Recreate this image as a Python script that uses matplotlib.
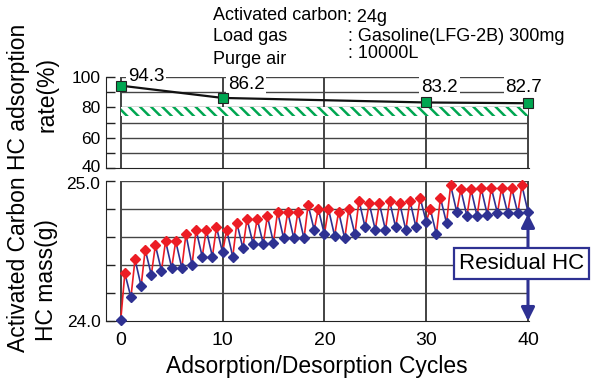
import matplotlib
matplotlib.use('Agg')
import matplotlib.pyplot as plt
import matplotlib.transforms as mtransforms
import numpy as np

plt.rcParams['font.family'] = ['Liberation Sans', 'DejaVu Sans']
plt.rcParams['hatch.linewidth'] = 1.8

# adsorption rate (top panel)
RATE_CYCLES = [0, 10, 30, 40]
RATE = [94.3, 86.2, 83.2, 82.7]
BAND_LO, BAND_HI = 74, 80

# HC mass after purge (blue, cycles 0..40) and after loading (red, cycles 0..39)
DES_HC = [24.01, 24.17, 24.25, 24.33, 24.36, 24.38, 24.38, 24.40, 24.46, 24.46,
          24.49, 24.46, 24.52, 24.55, 24.55, 24.56, 24.59, 24.59, 24.59, 24.65,
          24.62, 24.61, 24.59, 24.62, 24.67, 24.65, 24.65, 24.67, 24.65, 24.67,
          24.71, 24.62, 24.70, 24.78, 24.75, 24.75, 24.76, 24.77, 24.77, 24.77,
          24.78]
ADS_HC = [24.34, 24.44, 24.51, 24.54, 24.57, 24.57, 24.62, 24.65, 24.65, 24.67,
          24.65, 24.70, 24.73, 24.73, 24.75, 24.78, 24.78, 24.78, 24.83, 24.80,
          24.80, 24.78, 24.80, 24.86, 24.84, 24.84, 24.86, 24.84, 24.86, 24.88,
          24.80, 24.88, 24.97, 24.94, 24.94, 24.95, 24.95, 24.95, 24.95, 24.97]
HALF = 0.4   # loading point sits part way through the cycle

XTICKS = [0, 10, 20, 30, 40]
RED = '#ec1c24'
NAVY = '#2e3192'
GREEN = '#00a651'
GRID = '#444444'

W, H = 592, 379
fig = plt.figure(figsize=(W / 100, H / 100), dpi=100)
left = 106 / W
width = (528.5 - 106) / W
ax1 = fig.add_axes([left, 1 - 168 / H, width, 91 / H])
ax2 = fig.add_axes([left, 1 - 321 / H, width, 140 / H])

for ax in (ax1, ax2):
    ax.set_xlim(-1.45, 40.05)
    ax.spines['top'].set_visible(False)
    ax.spines['right'].set_visible(False)
    ax.spines['left'].set_color('#222222')
    ax.spines['bottom'].set_color('#222222')
    ax.tick_params(axis='y', direction='in', length=6.5, width=1, color='#222222',
                   labelsize=12.5, pad=4)
    for xv in XTICKS:
        ax.axvline(xv, color='#222222', lw=1.2, zorder=1)

# ---- top panel
ax1.set_ylim(40, 100)
ax1.set_yticks(np.arange(40, 101, 10))
ax1.set_yticklabels(['40', '', '60', '', '80', '', '100'])
ax1.set_xticks([])
ax1.hlines(np.arange(50, 101, 10), 0, 40, color=GRID, lw=1.0, zorder=1)
ax1.fill_between([0, 40], BAND_LO, BAND_HI, facecolor='white', edgecolor=GREEN,
                 hatch='\\\\\\', linewidth=0, zorder=2)
ax1.plot(RATE_CYCLES, RATE, color='#111111', lw=1.6, zorder=4,
         marker='s', ms=7, mfc=GREEN, mec='#222222', mew=0.8, clip_on=False)
lab_pos = [(0.7, 100.5), (10.5, 95.0), (29.5, 92.8), (37.8, 92.8)]
for (lx, ly), v in zip(lab_pos, RATE):
    ax1.text(lx, ly, f'{v}', ha='left', va='center', fontsize=13.5, zorder=3,
             bbox=dict(fc='white', ec='none', pad=1.5), clip_on=False)

# ---- bottom panel
ax2.set_ylim(24.0, 25.0)
yt = np.round(np.arange(24.0, 25.01, 0.2), 1)
ax2.set_yticks(yt)
ax2.set_yticklabels(['24.0', '', '', '', '', '25.0'])
ax2.hlines(yt[1:], 0, 40, color=GRID, lw=1.0, zorder=1)
ax2.set_xticks(XTICKS)
ax2.tick_params(axis='x', length=0, labelsize=14, pad=8)
ax2.set_xlabel('Adsorption/Desorption Cycles', fontsize=16.5, labelpad=4)

# nudge the touching "40" / "25.0" labels apart a little
for lab, dy in ((ax1.get_yticklabels()[0], 2.5), (ax2.get_yticklabels()[-1], -2)):
    lab.set_transform(lab.get_transform() +
                      mtransforms.ScaledTranslation(0, dy / 100, fig.dpi_scale_trans))

x_des = np.arange(len(DES_HC), dtype=float)
x_ads = x_des[:-1] + HALF
for i in range(len(ADS_HC)):
    ax2.plot([x_des[i], x_ads[i]], [DES_HC[i], ADS_HC[i]], color=RED, lw=1.2, zorder=3)
    ax2.plot([x_ads[i], x_des[i + 1]], [ADS_HC[i], DES_HC[i + 1]], color=NAVY, lw=1.2, zorder=3)
ax2.plot(x_ads, ADS_HC, ls='none', marker='D', ms=5, color=RED, zorder=5, clip_on=False)
ax2.plot(x_des, DES_HC, ls='none', marker='D', ms=5, color=NAVY, zorder=5, clip_on=False)

ax2.annotate('', xy=(40, 24.0), xytext=(40, DES_HC[-1] - 0.015),
             arrowprops=dict(arrowstyle='<|-|>', color=NAVY, lw=2.2,
                             mutation_scale=20, shrinkA=0, shrinkB=0),
             annotation_clip=False, zorder=6)
fig.text(521.5 / W, 1 - 263.5 / H, 'Residual HC', ha='center', va='center',
         fontsize=16, zorder=10,
         bbox=dict(boxstyle='square,pad=0.22', fc='white', ec=NAVY, lw=1.6))

# ---- y labels
fig.text(19 / W, 1 - 188 / H, 'Activated Carbon HC adsorption', rotation=90,
         ha='center', va='center', fontsize=16.5)
fig.text(47 / W, 1 - 95 / H, 'rate(%)', rotation=90, ha='center', va='center',
         fontsize=16.5)
fig.text(47 / W, 1 - 280 / H, 'HC mass(g)', rotation=90, ha='center', va='center',
         fontsize=16.5)

# ---- header
hdr = [('Activated carbon', 213, 20.5), (': 24g', 347, 22.5),
       ('Load gas', 213, 41), (': Gasoline(LFG-2B) 300mg', 348, 41),
       ('Purge air', 213, 64), (': 10000L', 348, 58)]
for s, hx, hy in hdr:
    fig.text(hx / W, 1 - hy / H, s, ha='left', va='baseline', fontsize=13)

fig.savefig('out.png', dpi=100, facecolor='white')
